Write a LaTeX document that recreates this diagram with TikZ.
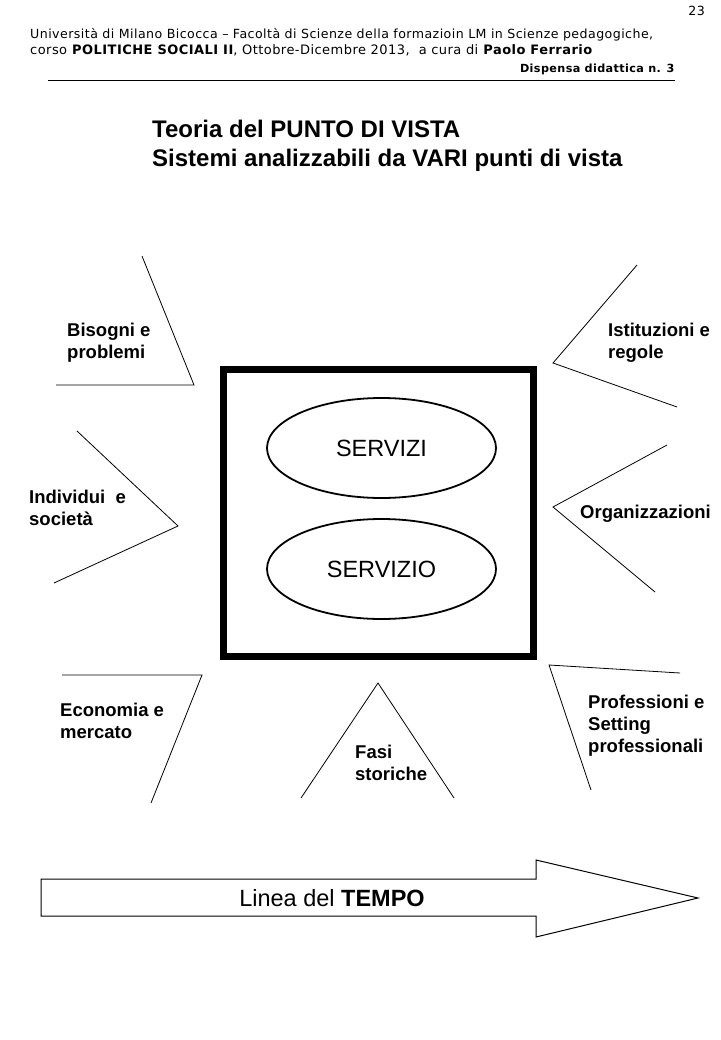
\documentclass[tikz,border=0pt]{standalone}
\usepackage{fontspec}
\setmainfont{Liberation Sans}
\newfontfamily\hdrfont[LetterSpace=3.5]{DejaVu Sans}
\usetikzlibrary{shapes.geometric}
\begin{document}
\begin{tikzpicture}[x=1pt,y=-1pt,
  wedge/.style={line width=0.8pt},
  lbl/.style={font=\bfseries\fontsize{18.5}{22}\selectfont, align=left, inner sep=0pt, anchor=west},
  hdr/.style={font=\hdrfont\fontsize{12.6}{15}\selectfont, inner sep=0pt},
  oval/.style={draw, line width=1.8pt, ellipse, minimum width=229pt, minimum height=100pt, inner sep=0pt, font=\fontsize{23.5}{28}\selectfont}]
\useasboundingbox (0,0) rectangle (720,1040);
\fill[white] (0,0) rectangle (720,1040);
% header
\node[hdr, anchor=east] (pg) at (705,11) {23};
\node[hdr, anchor=west] (h1) at (30,35) {Università di Milano Bicocca – Facoltà di Scienze della formazioin LM in Scienze pedagogiche,};
\node[hdr, anchor=west, font=\hdrfont\fontsize{13}{15}\selectfont] (h2) at (30,50) {corso \textbf{POLITICHE SOCIALI II}, Ottobre-Dicembre 2013,\ \ a cura di \textbf{Paolo Ferrario}};
\node[hdr, anchor=east, font=\hdrfont\fontsize{11.2}{14}\selectfont] (h3) at (675,69) {\textbf{Dispensa didattica n. 3}};
\coordinate (r1) at (48,81);
\coordinate (r2) at (675,81);
\draw[line width=1pt] (r1) -- (r2);
% title
\node[font=\bfseries\fontsize{24}{29}\selectfont, align=left, anchor=west, inner sep=0pt] (title) at (152,146) {Teoria del PUNTO DI VISTA\\Sistemi analizzabili da VARI punti di vista};
% central box
\node[draw, line width=7pt, minimum width=310pt, minimum height=287pt, inner sep=0pt] (box) at (378,512.5) {};
\node[oval] (e1) at (381.5,448) {SERVIZI};
\node[oval] (e2) at (381.5,569) {SERVIZIO};
% wedges
\coordinate (a1) at (142,256); \coordinate (a2) at (194,385); \coordinate (a3) at (56,385);
\draw[wedge] (a1) -- (a2) -- (a3);
\node[lbl] (bis) at (67,343) {Bisogni e\\problemi};
\coordinate (b1) at (637,265); \coordinate (b2) at (553,363); \coordinate (b3) at (677,407);
\draw[wedge] (b1) -- (b2) -- (b3);
\node[lbl] (ist) at (608,343) {Istituzioni e\\regole};
\coordinate (c1) at (77,431); \coordinate (c2) at (178,526); \coordinate (c3) at (54,583);
\draw[wedge] (c1) -- (c2) -- (c3);
\node[lbl] (ind) at (29,508) {Individui\ \ e\\società};
\coordinate (d1) at (667,445); \coordinate (d2) at (553,507); \coordinate (d3) at (655,592);
\draw[wedge] (d1) -- (d2) -- (d3);
\node[lbl] (org) at (580,514) {Organizzazioni};
\coordinate (f1) at (62,675); \coordinate (f2) at (202,675); \coordinate (f3) at (151,803);
\draw[wedge] (f1) -- (f2) -- (f3);
\node[lbl] (eco) at (60,721) {Economia e\\mercato};
\coordinate (g1) at (301,798); \coordinate (g2) at (378,683); \coordinate (g3) at (454,798);
\draw[wedge] (g1) -- (g2) -- (g3);
\node[lbl] (fas) at (355,763) {Fasi\\storiche};
\coordinate (p1) at (680,673); \coordinate (p2) at (549,665); \coordinate (p3) at (591,790);
\draw[wedge] (p1) -- (p2) -- (p3);
\node[lbl] (pro) at (588,726) {Professioni e\\Setting\\professionali};
% time arrow
\draw[line width=1pt] (41,879) -- (536,879) -- (536,860) -- (698,898) -- (536,937) -- (536,916) -- (41,916) -- cycle;
\node[font=\fontsize{23.5}{28}\selectfont, inner sep=0pt] (tempo) at (332,898) {Linea del \textbf{TEMPO}};
\end{tikzpicture}
\end{document}
